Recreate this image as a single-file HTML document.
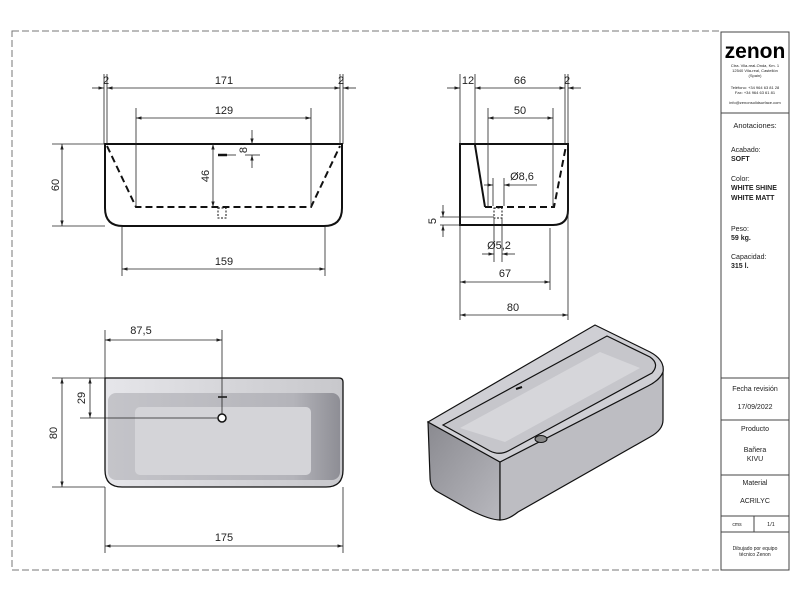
<!DOCTYPE html>
<html><head><meta charset="utf-8"><style>
html,body{margin:0;padding:0;background:#fff}
svg{display:block}
text{font-family:"Liberation Sans",sans-serif;fill:#222}
</style></head><body>
<svg width="800" height="600" viewBox="0 0 800 600" xmlns="http://www.w3.org/2000/svg">
<defs>
<marker id="a" viewBox="0 0 10 10" refX="10" refY="5" markerWidth="7" markerHeight="7" orient="auto-start-reverse"><path d="M0,2 L10,5 L0,8 z" fill="#222"/></marker>
<linearGradient id="g1" x1="0" y1="0" x2="1" y2="0"><stop offset="0" stop-color="#e6e6ea"/><stop offset="0.5" stop-color="#d6d6da"/><stop offset="1" stop-color="#c8c8cc"/></linearGradient>
<linearGradient id="g2" x1="0" y1="0" x2="1" y2="1"><stop offset="0" stop-color="#8a8a90"/><stop offset="1" stop-color="#b8b8be"/></linearGradient>
<linearGradient id="g3" x1="0" y1="0" x2="1" y2="0"><stop offset="0" stop-color="#c4c4c9"/><stop offset="0.8" stop-color="#b4b4ba"/><stop offset="1" stop-color="#8e8e95"/></linearGradient>
</defs>
<!-- frame -->
<rect x="12" y="31" width="709" height="539" fill="none" stroke="#777" stroke-width="1" stroke-dasharray="7,3"/>
<rect x="721" y="32" width="68" height="538" fill="#fff" stroke="#444" stroke-width="1"/>
<g stroke="#444" stroke-width="1">
<line x1="721" y1="113" x2="789" y2="113"/>
<line x1="721" y1="378" x2="789" y2="378"/>
<line x1="721" y1="420" x2="789" y2="420"/>
<line x1="721" y1="475" x2="789" y2="475"/>
<line x1="721" y1="516" x2="789" y2="516"/>
<line x1="721" y1="532" x2="789" y2="532"/>
<line x1="754" y1="516" x2="754" y2="532"/>
</g>
<text x="755" y="58" font-size="21" font-weight="bold" text-anchor="middle" style="fill:#000">zenon</text>
<g font-size="4" text-anchor="middle">
<text x="755" y="67">Ctra. Vila-real-Onda, Km. 1</text>
<text x="755" y="72">12540 Vila-real, Castellón</text>
<text x="755" y="77">(Spain)</text>
<text x="755" y="89">Teléfono: +34 964 63 81 28</text>
<text x="755" y="94">Fax: +34 964 63 61 81</text>
<text x="755" y="104">info@zenonsolidsurface.com</text>
</g>
<text x="755" y="128" font-size="7.5" text-anchor="middle">Anotaciones:</text>
<g font-size="7">
<text x="731" y="152">Acabado:</text>
<text x="731" y="161" font-weight="bold">SOFT</text>
<text x="731" y="181">Color:</text>
<text x="731" y="190" font-weight="bold">WHITE SHINE</text>
<text x="731" y="200" font-weight="bold">WHITE MATT</text>
<text x="731" y="231">Peso:</text>
<text x="731" y="240" font-weight="bold">59 kg.</text>
<text x="731" y="259">Capacidad:</text>
<text x="731" y="268" font-weight="bold">315 l.</text>
</g>
<g font-size="7" text-anchor="middle">
<text x="755" y="391">Fecha revisión</text>
<text x="755" y="409">17/09/2022</text>
<text x="755" y="431">Producto</text>
<text x="755" y="452">Bañera</text>
<text x="755" y="461">KIVU</text>
<text x="755" y="485">Material</text>
<text x="755" y="503">ACRILYC</text>
<text x="737" y="526" font-size="5">cms</text>
<text x="771" y="526" font-size="5.5">1/1</text>
<text x="755" y="550" font-size="5">Dibujado por equipo</text>
<text x="755" y="556" font-size="5">técnico Zenon</text>
</g>

<!-- Drawing 1: front section -->
<g fill="none" stroke="#111">
<path d="M105,144 L342,144 L342,208 Q342,226 324,226 L123,226 Q105,226 105,208 Z" stroke-width="2"/>
<path d="M107,146 L136,207 L311,207 L340,146" stroke-width="2" stroke-dasharray="7,4"/>
<rect x="218" y="208" width="8" height="10" stroke-width="1" stroke-dasharray="2,1.5"/>
<line x1="218" y1="155" x2="227" y2="155" stroke-width="2.5"/>
</g>
<g stroke="#222" stroke-width="0.8" fill="none">
<line x1="104" y1="74" x2="104" y2="144"/><line x1="107" y1="74" x2="107" y2="144"/>
<line x1="340" y1="74" x2="340" y2="144"/><line x1="343" y1="74" x2="343" y2="144"/>
<line x1="92" y1="88" x2="104" y2="88" marker-end="url(#a)"/>
<line x1="107" y1="88" x2="340" y2="88" marker-start="url(#a)" marker-end="url(#a)"/>
<line x1="356" y1="88" x2="343" y2="88" marker-end="url(#a)"/>
<line x1="136" y1="108" x2="136" y2="207"/><line x1="311" y1="108" x2="311" y2="207"/>
<line x1="136" y1="118" x2="311" y2="118" marker-start="url(#a)" marker-end="url(#a)"/>
<line x1="52" y1="144" x2="105" y2="144"/><line x1="52" y1="226" x2="105" y2="226"/>
<line x1="62" y1="144" x2="62" y2="226" marker-start="url(#a)" marker-end="url(#a)"/>
<line x1="213" y1="144" x2="213" y2="207" marker-start="url(#a)" marker-end="url(#a)"/>
<line x1="227" y1="155" x2="236" y2="155"/>
<line x1="252" y1="130" x2="252" y2="144" marker-end="url(#a)"/>
<line x1="252" y1="168" x2="252" y2="155" marker-end="url(#a)"/>
<line x1="245" y1="144" x2="260" y2="144"/><line x1="245" y1="155" x2="260" y2="155"/>
<line x1="122" y1="226" x2="122" y2="276"/><line x1="325" y1="226" x2="325" y2="276"/>
<line x1="122" y1="269" x2="325" y2="269" marker-start="url(#a)" marker-end="url(#a)"/>
</g>
<g font-size="11" text-anchor="middle">
<text x="106" y="84">2</text><text x="224" y="84">171</text><text x="341" y="84">2</text>
<text x="224" y="114">129</text>
<text x="224" y="265">159</text>
<text transform="translate(59,185) rotate(-90)">60</text>
<text transform="translate(209,176) rotate(-90)">46</text>
<text transform="translate(247,150) rotate(-90)">8</text>
</g>

<!-- Drawing 2: side section -->
<g fill="none" stroke="#111">
<path d="M460,144 L568,144 L568,210 Q568,225 553,225 L460,225 Z" stroke-width="2"/>
<path d="M475,145 L485,207" stroke-width="2"/>
<path d="M485,207 L554,207 L566,146" stroke-width="2" stroke-dasharray="7,4"/>
<rect x="494" y="208" width="8" height="10" stroke-width="1" stroke-dasharray="2,1.5"/>
</g>
<g stroke="#222" stroke-width="0.8" fill="none">
<line x1="460" y1="74" x2="460" y2="320"/><line x1="475" y1="74" x2="475" y2="144"/>
<line x1="565" y1="74" x2="565" y2="144"/><line x1="568" y1="74" x2="568" y2="320"/>
<line x1="447" y1="88" x2="460" y2="88" marker-end="url(#a)"/>
<line x1="475" y1="88" x2="565" y2="88" marker-start="url(#a)" marker-end="url(#a)"/>
<line x1="581" y1="88" x2="568" y2="88" marker-end="url(#a)"/>
<line x1="488" y1="108" x2="488" y2="207"/><line x1="553" y1="108" x2="553" y2="207"/>
<line x1="488" y1="118" x2="553" y2="118" marker-start="url(#a)" marker-end="url(#a)"/>
<line x1="493" y1="178" x2="493" y2="206"/><line x1="504" y1="178" x2="504" y2="206"/>
<line x1="484" y1="185" x2="493" y2="185" marker-end="url(#a)"/>
<line x1="537" y1="185" x2="504" y2="185" marker-end="url(#a)"/>
<line x1="440" y1="217" x2="494" y2="217"/><line x1="440" y1="225" x2="460" y2="225"/>
<line x1="443" y1="205" x2="443" y2="217" marker-end="url(#a)"/>
<line x1="443" y1="237" x2="443" y2="225" marker-end="url(#a)"/>
<line x1="494" y1="218" x2="494" y2="262"/><line x1="502" y1="218" x2="502" y2="262"/>
<line x1="482" y1="254" x2="494" y2="254" marker-end="url(#a)"/>
<line x1="515" y1="254" x2="502" y2="254" marker-end="url(#a)"/>
<line x1="550" y1="228" x2="550" y2="290"/>
<line x1="460" y1="282" x2="550" y2="282" marker-start="url(#a)" marker-end="url(#a)"/>
<line x1="460" y1="315" x2="568" y2="315" marker-start="url(#a)" marker-end="url(#a)"/>
</g>
<g font-size="11" text-anchor="middle">
<text x="468" y="84">12</text><text x="520" y="84">66</text><text x="567" y="84">2</text>
<text x="520" y="114">50</text>
<text x="522" y="180">Ø8,6</text>
<text x="499" y="249">Ø5,2</text>
<text x="505" y="277">67</text>
<text x="513" y="311">80</text>
<text transform="translate(436,221) rotate(-90)">5</text>
</g>

<!-- Drawing 3: plan -->
<path d="M105,378 L339,378 Q343,378 343,382 L343,470 Q343,487 326,487 L122,487 Q105,487 105,470 Z" fill="url(#g1)" stroke="#111" stroke-width="1.3"/>
<rect x="108" y="393" width="232" height="87" rx="8" fill="url(#g3)"/>
<rect x="135" y="407" width="176" height="68" rx="5" fill="#d4d4d8"/>
<circle cx="222" cy="418" r="4" fill="#fff" stroke="#111" stroke-width="1.5"/>
<line x1="218" y1="397" x2="227" y2="397" stroke="#111" stroke-width="1.5"/>
<g stroke="#222" stroke-width="0.8" fill="none">
<line x1="105" y1="330" x2="105" y2="378"/><line x1="222" y1="330" x2="222" y2="414"/>
<line x1="105" y1="340" x2="222" y2="340" marker-start="url(#a)" marker-end="url(#a)"/>
<line x1="52" y1="378" x2="105" y2="378"/><line x1="52" y1="487" x2="105" y2="487"/>
<line x1="62" y1="378" x2="62" y2="487" marker-start="url(#a)" marker-end="url(#a)"/>
<line x1="80" y1="418" x2="218" y2="418"/>
<line x1="90" y1="378" x2="90" y2="418" marker-start="url(#a)" marker-end="url(#a)"/>
<line x1="105" y1="487" x2="105" y2="553"/><line x1="343" y1="487" x2="343" y2="553"/>
<line x1="105" y1="546" x2="343" y2="546" marker-start="url(#a)" marker-end="url(#a)"/>
</g>
<g font-size="11" text-anchor="middle">
<text x="141" y="334">87,5</text>
<text x="224" y="541">175</text>
<text transform="translate(57,433) rotate(-90)">80</text>
<text transform="translate(85,398) rotate(-90)">29</text>
</g>

<!-- Drawing 4: isometric -->
<path d="M428,422 L500,462 L500,520 Q490,520 470,510 L438,492 Q430,488 430,477 Z" fill="url(#g2)" stroke="#111" stroke-width="1.2"/>
<path d="M500,462 L648,384 Q663,376 663,366 L663,420 Q663,430 650,437 L518,512 Q508,520 500,520 Z" fill="#bdbdc2" stroke="#111" stroke-width="1.2"/>
<path d="M428,422 L595,325 L650,352 Q665,360 663,372 Q660,380 648,386 L500,462 Z" fill="#cfcfd4" stroke="#111" stroke-width="1.2"/>
<path d="M443,425 L607,336 L650,357 Q660,364 652,373 L510,450 Q500,456 490,451 Z" fill="#c6c6cb" stroke="#111" stroke-width="1.2"/>
<path d="M460,428 L600,352 L640,368 L505,442 Z" fill="#d6d6da"/>
<ellipse cx="541" cy="439" rx="6" ry="3.5" fill="#888" stroke="#111" stroke-width="1"/>
<line x1="516" y1="389" x2="522" y2="387" stroke="#111" stroke-width="2"/>
</svg>
</body></html>
